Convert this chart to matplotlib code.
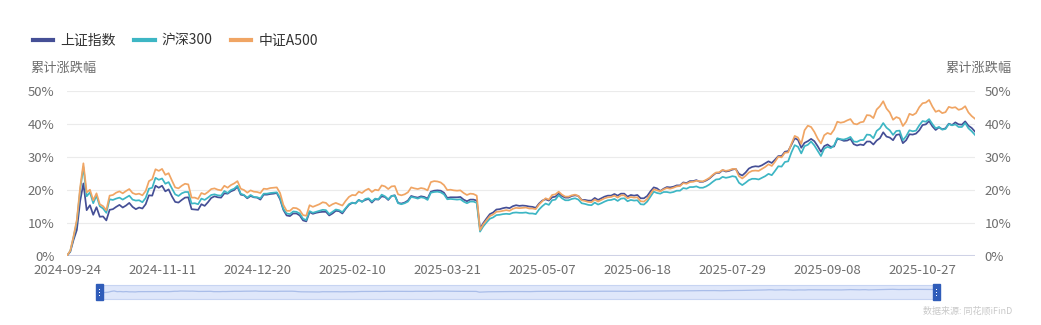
import numpy as np
import pandas as pd
import matplotlib
matplotlib.use("Agg")
import matplotlib.pyplot as plt
from matplotlib.lines import Line2D
from matplotlib.patches import Rectangle

plt.rcParams['font.family'] = ['Noto Sans CJK SC', 'DejaVu Sans']

# trading days (exchange holidays removed)
holidays = ['2024-10-01', '2024-10-02', '2024-10-03', '2024-10-04', '2024-10-07',
            '2025-01-01', '2025-01-28', '2025-01-29', '2025-01-30', '2025-01-31',
            '2025-02-03', '2025-02-04', '2025-04-04', '2025-05-01', '2025-05-02',
            '2025-05-05', '2025-06-02', '2025-10-01', '2025-10-02', '2025-10-03',
            '2025-10-06', '2025-10-07', '2025-10-08']
days = pd.bdate_range('2024-09-24', '2025-11-18')
dates = days[~days.isin(pd.to_datetime(holidays))].strftime('%Y-%m-%d').tolist()

series_names = ['上证指数', '沪深300', '中证A500']

# cumulative change, %
sse = [0, 1.2, 4.8, 7.8, 16.5,
       21.9, 13.8, 15.3, 12.4, 14.7, 11.8, 11.9, 10.7, 13.9, 14.1, 14.8, 15.4, 14.6, 15.2, 16.0, 14.8, 14.1, 14.6,
       14.3, 15.6, 18.3, 18.2, 21.2, 20.6, 21.2, 19.5, 20.1, 18.0, 16.3, 16.1, 16.9, 17.6, 17.7, 14.1, 14.0, 13.9, 15.6, 15.1, 16.2,
       17.5, 18.0, 17.7, 17.6, 18.9, 18.8, 19.5, 19.9, 20.9, 18.5, 18.3, 17.4, 18.1, 17.7, 17.6, 17.0, 18.5, 18.5, 18.7, 18.8, 19.0, 17.1,
       13.9, 12.2, 12.0, 12.8, 12.8, 12.2, 10.7, 10.4, 13.2, 12.7, 13.0, 13.2, 13.3, 13.3, 12.2, 12.8, 13.6, 13.5,
       12.8, 14.2, 15.4, 16.0, 15.9, 16.9, 16.4, 16.9, 17.2, 16.1, 17.1, 17.0, 18.0, 17.8, 16.9, 18.1, 18.3, 16.0,
       15.8, 16.1, 16.7, 18.1, 17.8, 17.6, 18.0, 17.8, 17.3, 19.4, 19.7, 19.8, 19.7, 19.1, 17.5, 17.7, 17.7, 17.7, 17.8, 17.0, 16.5,
       17.0, 17.0, 16.7, 8.2, 9.9, 11.3, 12.6, 13.1, 14.0, 14.1, 14.4, 14.6, 14.4, 15.0, 15.3, 15.1, 15.2, 15.1, 14.9, 14.8, 14.5,
       15.8, 16.7, 17.1, 16.7, 17.7, 17.9, 18.9, 18.1, 17.6, 17.6, 18.1, 18.3, 18.1, 16.9, 16.9, 16.7, 16.7, 17.5, 16.9,
       17.4, 17.9, 18.2, 18.2, 18.7, 18.2, 18.8, 18.8, 17.9, 18.4, 18.2, 18.4, 17.4, 17.4, 18.1, 19.5, 20.7, 20.4, 19.6, 20.3,
       20.8, 20.7, 20.9, 21.3, 21.3, 22.2, 22.0, 22.6, 22.6, 22.9, 22.4, 22.4, 22.8, 23.4, 24.3, 25.1, 25.1, 25.9, 25.5, 25.7, 26.1, 26.3, 24.8,
       24.3, 25.2, 26.4, 26.9, 27.1, 27.0, 27.4, 28.0, 28.6, 28.1, 29.1, 30.2, 30.2, 31.5, 31.7, 33.6, 35.6, 35.1, 32.7, 34.2, 34.7,
       35.4, 34.7, 33.2, 31.5, 33.2, 33.7, 33.0, 33.1, 35.4, 35.2, 34.8, 34.9, 35.4, 33.8, 33.4, 33.7, 33.5, 34.6, 34.6, 33.7, 34.9, 35.6,
       37.4, 36.1, 35.8, 35.0, 36.6, 36.8, 34.1, 35.0, 36.8, 36.7, 37.0, 38.0, 39.6, 39.8, 40.8, 39.2, 38.1,
       38.9, 38.3, 38.6, 40.0, 39.6, 40.4, 39.8, 39.7, 40.7, 39.4, 38.7, 37.6]

csi300 = [0, 1.4, 5.6, 10.4, 19.8,
          26.9, 18.0, 19.2, 15.9, 18.2, 15.0, 14.3, 13.0, 17.1, 16.9, 17.3, 17.6, 17.0, 17.6, 18.2, 17.0, 16.7, 16.8,
          16.2, 17.5, 20.3, 20.6, 23.6, 23.0, 23.4, 21.8, 22.3, 20.4, 18.6, 18.1, 18.9, 19.3, 19.3, 15.8, 15.9, 15.6, 17.3, 16.9, 17.6,
          18.4, 18.6, 18.3, 18.2, 19.6, 19.0, 19.9, 20.3, 21.2, 18.8, 18.4, 17.6, 18.4, 17.8, 17.7, 17.4, 18.8, 18.8, 19.0, 19.1, 19.2, 17.5,
          14.2, 12.8, 12.6, 13.4, 13.3, 12.8, 11.2, 10.8, 13.5, 13.0, 13.3, 13.6, 13.9, 13.8, 12.6, 13.3, 14.0, 13.8,
          13.2, 14.4, 15.6, 16.1, 15.8, 16.9, 16.3, 17.2, 17.4, 16.4, 17.3, 17.1, 18.5, 18.0, 17.1, 18.1, 18.2, 15.9,
          15.6, 15.9, 16.4, 17.8, 17.6, 17.3, 17.7, 17.5, 16.9, 19.1, 19.3, 19.4, 19.2, 18.6, 17.1, 17.2, 17.1, 17.0, 17.1, 16.4, 15.9,
          16.4, 16.4, 16.0, 7.3, 8.9, 10.1, 11.2, 11.6, 12.3, 12.4, 12.6, 12.7, 12.6, 13.0, 13.1, 13.0, 13.0, 13.1, 12.8, 12.8, 12.6,
          14.0, 15.0, 15.8, 15.4, 16.8, 17.0, 18.3, 17.4, 16.8, 16.8, 17.2, 17.4, 17.0, 15.9, 15.7, 15.4, 15.3, 16.1, 15.5,
          15.9, 16.4, 16.8, 16.9, 17.2, 16.6, 17.3, 17.4, 16.5, 16.9, 16.7, 16.8, 15.6, 15.5, 16.4, 17.9, 19.4, 19.0, 18.8, 19.3,
          19.3, 19.1, 19.3, 19.7, 19.7, 20.5, 20.3, 20.8, 20.8, 21.0, 20.6, 20.6, 21.0, 21.6, 22.4, 23.1, 23.2, 23.9, 23.6, 23.8, 24.1, 23.9, 22.1,
          21.4, 22.1, 22.9, 23.3, 23.3, 23.1, 23.6, 24.1, 24.8, 24.4, 25.7, 27.1, 27.0, 28.4, 28.6, 31.3, 33.5, 33.0, 31.0, 33.2, 33.6,
          34.6, 33.4, 31.8, 30.2, 32.4, 33.0, 32.6, 33.4, 35.6, 35.3, 35.2, 35.5, 36.0, 34.6, 34.5, 35.0, 35.1, 36.7, 36.6, 35.6, 37.8, 38.6,
          40.2, 38.8, 38.0, 36.6, 37.8, 37.9, 35.0, 36.2, 38.0, 37.7, 37.9, 39.5, 40.8, 40.6, 41.4, 39.9, 38.6,
          39.0, 38.2, 38.4, 39.9, 39.5, 39.8, 39.0, 39.0, 40.2, 38.6, 37.7, 36.6]

a500 = [0, 1.5, 5.9, 10.9, 20.6,
        28.0, 19.2, 20.0, 16.8, 18.9, 15.6, 15.0, 13.8, 18.2, 18.4, 19.1, 19.5, 18.9, 19.6, 20.2, 19.0, 18.6, 18.8,
        18.3, 19.6, 22.6, 23.2, 26.2, 25.7, 26.3, 24.5, 25.0, 22.8, 20.7, 20.4, 21.2, 21.8, 21.6, 17.6, 17.6, 17.2, 19.0, 18.6, 19.3,
        20.2, 20.4, 20.0, 19.8, 21.2, 20.6, 21.4, 21.9, 22.6, 20.3, 19.9, 19.1, 19.8, 19.4, 19.3, 19.0, 20.3, 20.2, 20.5, 20.6, 20.7, 19.0,
        15.4, 13.6, 13.6, 14.5, 14.4, 13.8, 12.3, 12.1, 15.3, 14.8, 15.2, 15.6, 16.2, 16.0, 15.0, 15.6, 16.0, 15.6,
        15.2, 16.6, 17.8, 18.4, 18.3, 19.4, 19.0, 19.8, 20.3, 19.3, 20.0, 19.8, 21.3, 21.0, 20.2, 21.0, 21.1, 18.6,
        18.3, 18.6, 19.2, 20.7, 20.4, 20.2, 20.5, 20.3, 19.8, 22.3, 22.6, 22.5, 22.2, 21.4, 19.9, 20.0, 19.8, 19.7, 19.8, 19.0, 18.4,
        18.8, 18.7, 18.2, 7.8, 9.5, 10.8, 12.0, 12.5, 13.3, 13.4, 13.6, 13.8, 13.6, 14.2, 14.5, 14.4, 14.5, 14.6, 14.3, 14.3, 14.1,
        15.5, 16.5, 17.4, 17.0, 18.4, 18.6, 19.4, 18.5, 17.9, 17.9, 18.3, 18.5, 18.1, 16.8, 16.6, 16.3, 16.2, 17.0, 16.4,
        16.9, 17.4, 17.7, 17.8, 18.2, 17.6, 18.3, 18.3, 17.4, 17.8, 17.6, 17.7, 16.5, 16.4, 17.2, 18.7, 20.1, 19.8, 19.5, 20.1,
        20.5, 20.3, 20.6, 21.0, 21.1, 22.0, 21.8, 22.3, 22.4, 22.7, 22.6, 22.5, 23.0, 23.6, 24.5, 25.2, 25.3, 26.0, 25.7, 25.9, 26.3, 26.3, 24.1,
        23.4, 24.2, 25.2, 25.7, 25.8, 25.7, 26.3, 26.9, 27.7, 27.2, 28.5, 30.0, 29.8, 31.2, 31.3, 33.9, 36.3, 35.8, 33.9, 38.0, 39.4,
        39.0, 37.5, 35.5, 34.0, 36.5, 37.2, 36.8, 38.2, 40.6, 40.3, 40.5, 41.0, 41.4, 40.0, 39.8, 40.4, 40.6, 42.6, 42.5, 41.7, 44.3, 45.3,
        46.8, 44.6, 43.4, 41.2, 42.0, 41.6, 39.3, 40.6, 43.0, 42.6, 43.2, 45.0, 46.2, 46.4, 47.2, 45.2, 43.6,
        44.0, 43.2, 43.5, 45.1, 44.8, 45.0, 44.2, 44.5, 45.3, 43.4, 42.3, 41.5]

colors = ['#454f96', '#3db6c4', '#f0a564']
yticks = [0, 10, 20, 30, 40, 50]
n = len(dates)
x = np.arange(n)

W, H = 1041, 325
fig = plt.figure(figsize=(W / 100, H / 100), dpi=100)
ax = fig.add_axes([67 / W, (H - 255.7) / H, 908 / W, 165 / H])

for vals, c, name in zip([sse, csi300, a500], colors, series_names):
    ax.plot(x, vals, color=c, lw=1.25, label=name, zorder=3)

ax.set_xlim(0, n - 1)
ax.set_ylim(0, 50)
ax.set_yticks(yticks)
ax.set_yticklabels([f'{v}%' for v in yticks])
ax.grid(axis='y', color='#ebebeb', lw=0.8)
ax.axhline(0, color='#cfd2e6', lw=2.2, zorder=2)
for s in ax.spines.values():
    s.set_visible(False)
ax.tick_params(axis='both', length=0, colors='#6e6e6e', labelsize=9.5)
ax.tick_params(axis='y', pad=9)
ax.tick_params(axis='x', pad=6)
tick_pos = list(range(0, n, 29))
ax.set_xticks(tick_pos)
ax.set_xticklabels([dates[i] for i in tick_pos])

# right-side value labels
ax2 = ax.twinx()
ax2.set_ylim(0, 50)
ax2.set_yticks(yticks)
ax2.set_yticklabels([f'{v}%' for v in yticks])
ax2.tick_params(axis='y', length=0, colors='#6e6e6e', labelsize=9.5, pad=7)
for s in ax2.spines.values():
    s.set_visible(False)

fig.text(30 / W, 1 - 68 / H, '累计涨跌幅', color='#6e6e6e', fontsize=9.5, va='center', ha='left')
fig.text(1012 / W, 1 - 68 / H, '累计涨跌幅', color='#6e6e6e', fontsize=9.5, va='center', ha='right')

handles = [Line2D([0], [0], color=c, lw=3) for c in colors]
fig.legend(handles, series_names, loc='center left', bbox_to_anchor=(20 / W, 1 - 41 / H),
           ncol=3, frameon=False, fontsize=10, handlelength=1.5, handletextpad=0.5,
           columnspacing=1.3, labelcolor='#333333')

# data zoom slider
sl = fig.add_axes([99 / W, (H - 299) / H, 836 / W, 14 / H])
sl.set_facecolor('#dfe7fa')
sl.plot(x, sse, color='#a9bde9', lw=0.9)
sl.set_xlim(0, n - 1)
sl.set_ylim(-70, 90)
sl.set_xticks([])
sl.set_yticks([])
for s in sl.spines.values():
    s.set_color('#c7d4f2')
    s.set_linewidth(0.8)
for hx in (95.5, 932.5):
    fig.add_artist(Rectangle((hx / W, (H - 300) / H), 7 / W, 16 / H, transform=fig.transFigure,
                             facecolor='#2f5cb9', edgecolor='#2f5cb9', zorder=5))
    for dy in (-3, 0, 3):
        fig.add_artist(Rectangle(((hx + 3) / W, (H - 292.5 + dy) / H), 1 / W, 1 / H,
                                 transform=fig.transFigure, facecolor='white', edgecolor='none', zorder=6))

fig.text(1012 / W, 1 - 311 / H, '数据来源: 同花顺iFinD', color='#c9c9c9', fontsize=6.5, ha='right', va='center')

fig.savefig('out.png', dpi=100)
